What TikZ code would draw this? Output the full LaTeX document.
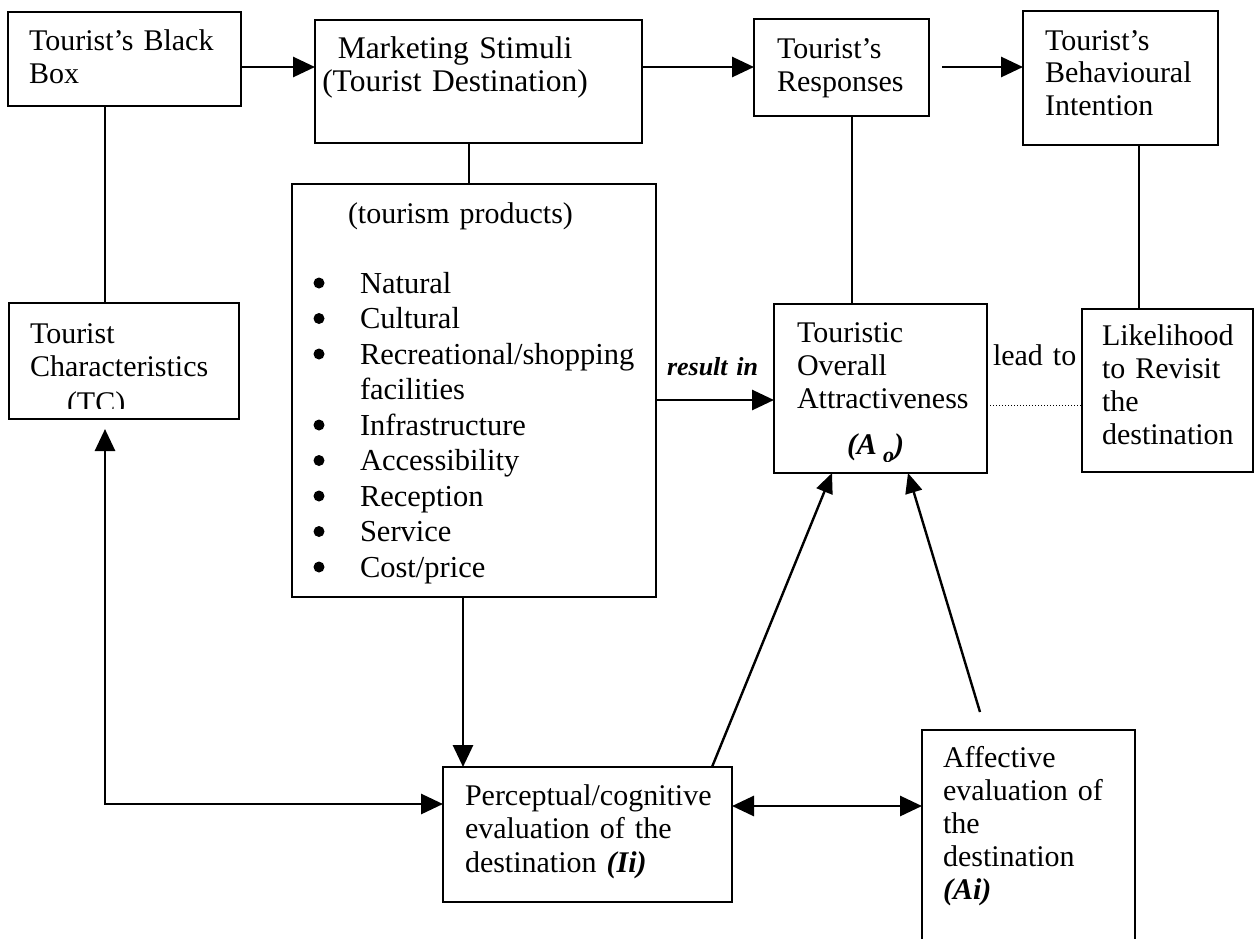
\documentclass[tikz,border=0pt]{standalone}
\usepackage{fontspec}
\setmainfont{Liberation Serif}
\usetikzlibrary{arrows.meta,calc}
\begin{document}
\begin{tikzpicture}[x=1pt,y=-1pt,
  box/.style={draw, line width=2.9pt, rectangle, inner sep=0pt, outer sep=0pt, anchor=north west},
  txt/.style={anchor=base west, inner sep=0pt, outer sep=0pt, text width=#1, align=left,
    font=\fontsize{30}{33}\selectfont},
  txt/.default=330pt,
  dot/.style={circle, fill=black, inner sep=0pt, minimum size=11pt},
  link/.style={line width=2.9pt},
  arr/.style={line width=2.9pt, -{Triangle[length=22pt,width=20pt]}},
  twoway/.style={line width=2.9pt, {Triangle[length=22pt,width=20pt]}-{Triangle[length=22pt,width=20pt]}},
  slant/.style={line width=2.4pt, -{Triangle[length=20pt,width=17pt]}}]
\path[use as bounding box] (0,0) rectangle (1256,938);
\clip (0,0) rectangle (1256,938);

% ---- boxes ----
\node[box, minimum width=233pt, minimum height=94pt]  (bb) at (8,12) {};
\node[box, minimum width=327pt, minimum height=123pt] (ms) at (315,20) {};
\node[box, minimum width=175pt, minimum height=97pt]  (tr) at (754,19) {};
\node[box, minimum width=195pt, minimum height=134pt] (bi) at (1023,11) {};
\node[box, minimum width=230pt, minimum height=116pt] (tc) at (9,303) {};
\node[box, minimum width=364pt, minimum height=413pt] (pp) at (292,184) {};
\node[box, minimum width=213pt, minimum height=169pt] (ao) at (774,304) {};
\node[box, minimum width=171pt, minimum height=163pt] (lk) at (1082,309) {};
\node[box, minimum width=289pt, minimum height=135pt] (pc) at (443,767) {};
\node[box, minimum width=213pt, minimum height=240pt] (af) at (922,730) {};

% ---- texts ----
\node[txt] (tbb) at (29,50) {Tourist’s Black\\Box};
\node[txt=330pt, align=center, anchor=base, font=\fontsize{31.5}{33}\selectfont] (tms) at (455,58)
  {Marketing Stimuli\\(Tourist Destination)};
\node[txt] (ttr) at (777,58) {Tourist’s\\Responses};
\node[txt, font=\fontsize{30}{32.5}\selectfont] (tbi) at (1045,50) {Tourist’s\\Behavioural\\Intention};
\node[txt] (ttc) at (30,343) {Tourist\\Characteristics};
\begin{scope}
  \clip (0,0) rectangle (300,408.5);
  \node[txt] (ttc2) at (67,412) {(TC)};
\end{scope}
\node[txt] (tao) at (797,342) {Touristic\\Overall\\Attractiveness};
\begin{scope}
  \clip (700,0) rectangle (1000,461);
  \node[txt] (tao2) at (847,454)
    {\textbf{\textit{(A\hspace{6pt}\raisebox{-8pt}{\fontsize{22}{22}\selectfont o})}}};
\end{scope}
\node[txt] (tlead) at (993,365) {lead to};
\node[txt, font=\fontsize{30}{33.3}\selectfont] (tlk) at (1102,345) {Likelihood\\to Revisit\\the\\destination};
\node[txt, font=\fontsize{26}{30}\selectfont\bfseries\itshape] (tres) at (667,375) {result in};
\node[txt, font=\fontsize{30}{33.5}\selectfont] (tpc) at (465,805)
  {Perceptual/cognitive\\evaluation of the\\destination \textbf{\textit{(Ii)}}};
\node[txt, font=\fontsize{30}{33.2}\selectfont] (taf) at (943,767)
  {Affective\\evaluation of\\the\\destination\\\textbf{\textit{(Ai)}}};

% tourism products list
\node[txt] (tpp) at (348,223) {(tourism products)};
\node[txt, font=\fontsize{30.5}{35.5}\selectfont] (items) at (360,293)
  {Natural\\Cultural\\Recreational/shopping\\facilities\\Infrastructure\\Accessibility\\Reception\\Service\\Cost/price};
\foreach \row/\k in {0/1,1/2,2/3,4/4,5/5,6/6,7/7,8/8}
  \node[dot] (b\k) at (319,{283+35.5*\row}) {};

% ---- reference columns and rows for connectors ----
\coordinate (xA) at (105,0);
\coordinate (xB) at (469,0);
\coordinate (xC) at (463,0);
\coordinate (xD) at (852,0);
\coordinate (xE) at (1139,0);
\coordinate (yTop) at (0,67);
\coordinate (yRes) at (0,400);
\coordinate (yLead) at (0,405);
\coordinate (yL) at (0,804);
\coordinate (yM) at (0,806);

% ---- connectors ----
\draw[arr] (bb.east |- yTop) -- (ms.west |- yTop);
\draw[arr] (ms.east |- yTop) -- (tr.west |- yTop);
\draw[arr, shorten <=13pt] (tr.east |- yTop) -- (bi.west |- yTop);
\draw[link] (bb.south -| xA) -- (tc.north -| xA);
\draw[link] (ms.south -| xB) -- (pp.north -| xB);
\draw[link] (tr.south -| xD) -- (ao.north -| xD);
\draw[link] (bi.south -| xE) -- (lk.north -| xE);
\draw[arr] (pp.south -| xC) -- (pc.north -| xC);
\draw[arr] (pp.east |- yRes) -- (ao.west |- yRes);
\draw[line width=1pt, dotted] (ao.east |- yLead) -- (lk.west |- yLead);
\draw[twoway, shorten <=10pt] (tc.south -| xA) |- (pc.west |- yL);
\draw[twoway] (pc.east |- yM) -- (af.west |- yM);
\draw[slant] ([xshift=124.5pt]pc.north) -- ([xshift=-48.5pt]ao.south);
\draw[slant] ([xshift=-48.5pt,yshift=18pt]af.north) -- ([xshift=27.5pt]ao.south);
\end{tikzpicture}
\end{document}
